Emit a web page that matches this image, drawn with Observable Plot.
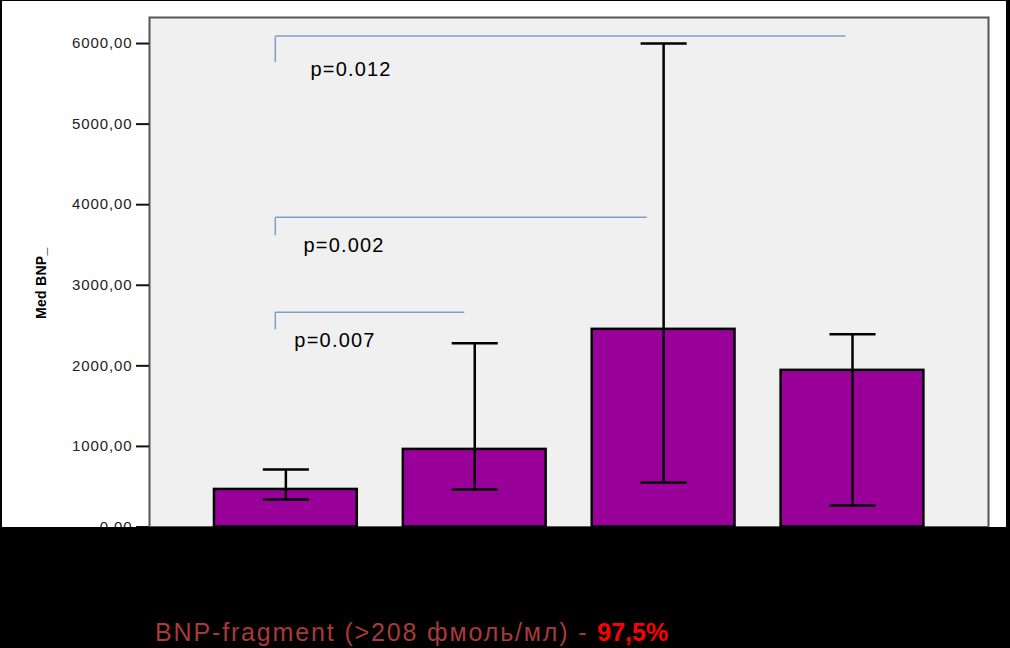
<!DOCTYPE html>
<html>
<head>
<meta charset="utf-8">
<script src="https://cdn.jsdelivr.net/npm/d3@7"></script>
<script src="https://cdn.jsdelivr.net/npm/@observablehq/plot@0.6"></script>
<style>
  html, body { margin: 0; padding: 0; background: #000; }
  #wrap { position: relative; width: 1010px; height: 648px; background: #000; overflow: hidden; font-family: "Liberation Sans", Arial, sans-serif; }
  #chart { position: absolute; left: 0; top: 0; }
  .blk { position: absolute; background: #000; }
  #caption { position: absolute; left: 155px; top: 620px; font-size: 25px; line-height: 25px; white-space: nowrap; color: #a83a3a; }
  #caption span { letter-spacing: 1.85px; }
  #caption b { color: #ff0000; }
  g[aria-label="y-axis tick label"] text { letter-spacing: 0.9px; }
  text.pval { letter-spacing: 1.2px; }
  text.ylab { letter-spacing: 0.3px; }
</style>
</head>
<body>
<div id="wrap">
  <div id="chart"></div>
  <div class="blk" style="left:0;top:0;width:2px;height:648px"></div>
  <div class="blk" style="left:0;top:0;width:1010px;height:1px"></div>
  <div class="blk" style="left:1006px;top:0;width:4px;height:648px"></div>
  <div class="blk" style="left:0;top:527px;width:1010px;height:121px"></div>
  <div id="caption"><span>BNP-fragment (&gt;208 фмоль/мл) - </span><b>97,5%</b></div>
</div>
<script>
// Data
const groups = [1, 2, 3, 4];
const medians = [466, 963, 2453, 1944];
const lows = [342, 466, 553, 267];
const highs = [714, 2280, 6000, 2391];
const yTicks = [0, 1000, 2000, 3000, 4000, 5000, 6000];
const yLabel = "Med BNP_";

// Significance brackets: from group, to group, level, label
const brFrom = [1, 1, 1];
const brTo = [2, 3, 4];
const brY = [2665, 3845, 6093];
const brDrop = [2453, 3621, 5770];
const brText = ["p=0.007", "p=0.002", "p=0.012"];
const brTextY = [2310, 3490, 5680];

const data = groups.map((g, i) => ({g, median: medians[i], low: lows[i], high: highs[i]}));
const brackets = brText.map((t, i) => ({from: brFrom[i], to: brTo[i], y: brY[i], drop: brDrop[i], label: t, ty: brTextY[i]}));

const halfBar = 0.378;
const halfCap = 0.122;
const bracketColor = "#7ba0cc";

const chart = Plot.plot({
  width: 1010,
  height: 560,
  marginLeft: 149,
  marginRight: 22,
  marginTop: 17,
  marginBottom: 33.5,
  style: {background: "#ffffff", fontFamily: "Liberation Sans, Arial, sans-serif"},
  x: {domain: [0.278, 4.72], axis: null},
  y: {domain: [0, 6323]},
  marks: [
    Plot.frame({fill: "#f0f0f0", stroke: "#555", strokeWidth: 2}),
    Plot.axisY({
      ticks: yTicks,
      tickFormat: d => d.toFixed(2).replace(".", ","),
      tickSize: 13,
      tickPadding: 4,
      strokeWidth: 2,
      stroke: "#111",
      fontSize: 15,
      fill: "#222",
      label: null
    }),
    Plot.text([yLabel], {
      frameAnchor: "left", dx: -108, dy: 11, rotate: -90,
      text: d => d, fontSize: 14, fontWeight: "bold", fill: "#000", textAnchor: "middle"
    }),
    // significance brackets
    Plot.link(brackets, {x1: d => d.from - 0.056, x2: d => d.to - (d.to === 4 ? 0.037 : d.to === 3 ? 0.09 : 0.056), y1: "y", y2: "y", stroke: bracketColor, strokeWidth: 1.5}),
    Plot.link(brackets, {x1: d => d.from - 0.056, x2: d => d.from - 0.056, y1: "y", y2: "drop", stroke: bracketColor, strokeWidth: 1.5}),
    Plot.text(brackets, {x: d => d.from + (d.to === 4 ? 0.13 : d.to === 3 ? 0.093 : 0.045), y: "ty", text: "label", textAnchor: "start", fontSize: 20, fill: "#000"}),
    // bars
    Plot.rectY(data, {x1: d => d.g - halfBar, x2: d => d.g + halfBar, y1: 0, y2: "median", fill: "#990099", stroke: "#000", strokeWidth: 2.5}),
    // error bars
    Plot.ruleX(data, {x: "g", y1: "low", y2: "high", stroke: "#000", strokeWidth: 2.5}),
    Plot.link(data, {x1: d => d.g - halfCap, x2: d => d.g + halfCap, y1: "high", y2: "high", stroke: "#000", strokeWidth: 2.5}),
    Plot.link(data, {x1: d => d.g - halfCap, x2: d => d.g + halfCap, y1: "low", y2: "low", stroke: "#000", strokeWidth: 2.5})
  ]
});
// tag text for letter-spacing styling
d3.select(chart).selectAll("text").each(function() {
  const t = this.textContent;
  if (brText.includes(t)) this.classList.add("pval");
  if (t === yLabel) this.classList.add("ylab");
});
document.getElementById("chart").appendChild(chart);
</script>
</body>
</html>
